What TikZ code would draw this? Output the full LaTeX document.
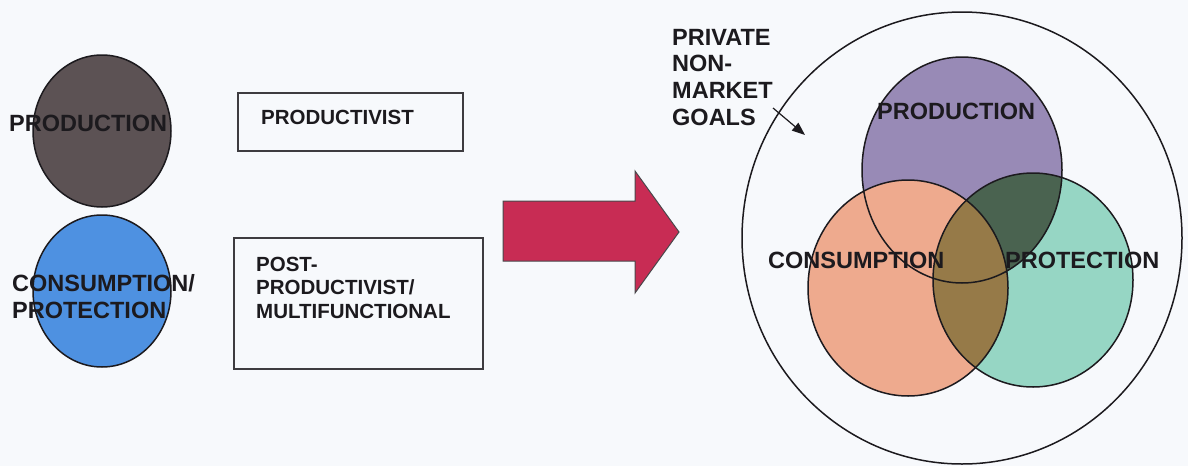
\documentclass[tikz,border=0pt]{standalone}
\usepackage{fontspec}
\setmainfont{Liberation Sans}
\usetikzlibrary{arrows.meta}
\definecolor{paper}{RGB}{247,249,252}
\definecolor{ink}{RGB}{28,26,30}
\definecolor{darkprod}{RGB}{92,82,84}
\definecolor{blueprot}{RGB}{78,145,225}
\definecolor{crimson}{RGB}{200,44,84}
\definecolor{lilac}{RGB}{152,138,182}
\definecolor{salmon}{RGB}{238,170,142}
\definecolor{seafoam}{RGB}{150,214,196}
\definecolor{deepgreen}{RGB}{74,99,80}
\definecolor{olive}{RGB}{150,122,72}
\begin{document}
\begin{tikzpicture}[x=1pt,y=-1pt,
  biglabel/.style={font=\bfseries\fontsize{23.5}{24}\selectfont, text=ink, inner sep=0pt, anchor=base west},
  boxlabel/.style={font=\bfseries\fontsize{20.5}{23}\selectfont, text=ink, inner sep=0pt, anchor=base west},
  outline/.style={draw=ink, line width=1.5pt},
  frame/.style={draw=ink!85, line width=1.6pt}]
\useasboundingbox (0,0) rectangle (1188,466);
\fill[paper] (0,0) rectangle (1188,466);

% left: the two single-goal ovals
\draw[outline, fill=darkprod] (102,131) ellipse [x radius=69pt, y radius=76pt];
\draw[outline, fill=blueprot] (102,291) ellipse [x radius=69pt, y radius=76pt];
\node[biglabel] (lprod) at (9,131) {PRODUCTION};
\node[biglabel] (lcons) at (12,291) {CONSUMPTION/};
\node[biglabel] (lprot) at (12,318) {PROTECTION};

% middle: regime boxes
\draw[frame] (238,93) rectangle (463,151);
\node[boxlabel] (prodvist) at (261,124) {PRODUCTIVIST};
\draw[frame] (234,238) rectangle (483,369);
\node[boxlabel] (post1) at (256,271) {POST-};
\node[boxlabel] (post2) at (256,294) {PRODUCTIVIST/};
\node[boxlabel] (post3) at (256,318) {MULTIFUNCTIONAL};

% block arrow
\draw[fill=crimson, draw=ink!80, line width=1pt, line join=miter]
  (503,201) -- (635,201) -- (635,171) -- (679,232) -- (635,293) -- (635,261) -- (503,261) -- cycle;

% right: outer oval with overlapping goals
\draw[outline, fill=paper] (962,238) ellipse [x radius=220pt, y radius=226pt];
\def\prodpath{(962,170) ellipse [x radius=100pt, y radius=113pt]}
\def\conspath{(908,288) ellipse [x radius=100pt, y radius=108pt]}
\def\protpath{(1033,280) ellipse [x radius=100pt, y radius=107pt]}
\fill[lilac] \prodpath;
\fill[salmon] \conspath;
\fill[seafoam] \protpath;
\begin{scope}
  \clip \protpath;
  \fill[deepgreen] \prodpath;
  \fill[olive] \conspath;
\end{scope}
\draw[outline] \prodpath;
\draw[outline] \conspath;
\draw[outline] \protpath;

\node[biglabel] (rprod) at (877,119) {PRODUCTION};
\node[biglabel] (rcons) at (768,268) {CONSUMPTION};
\node[biglabel] (rprot) at (1005,268) {PROTECTION};

% outer label and its pointer
\node[biglabel] (g1) at (672,45) {PRIVATE};
\node[biglabel] (g2) at (672,71) {NON-};
\node[biglabel] (g3) at (672,98) {MARKET};
\node[biglabel] (g4) at (672,125) {GOALS};
\coordinate (gstart) at (773,108);
\coordinate (gtip) at (805,135);
\draw[ink, line width=1.2pt, -{Triangle[length=13pt,width=10pt]}] (gstart) -- (gtip);
\end{tikzpicture}
\end{document}
